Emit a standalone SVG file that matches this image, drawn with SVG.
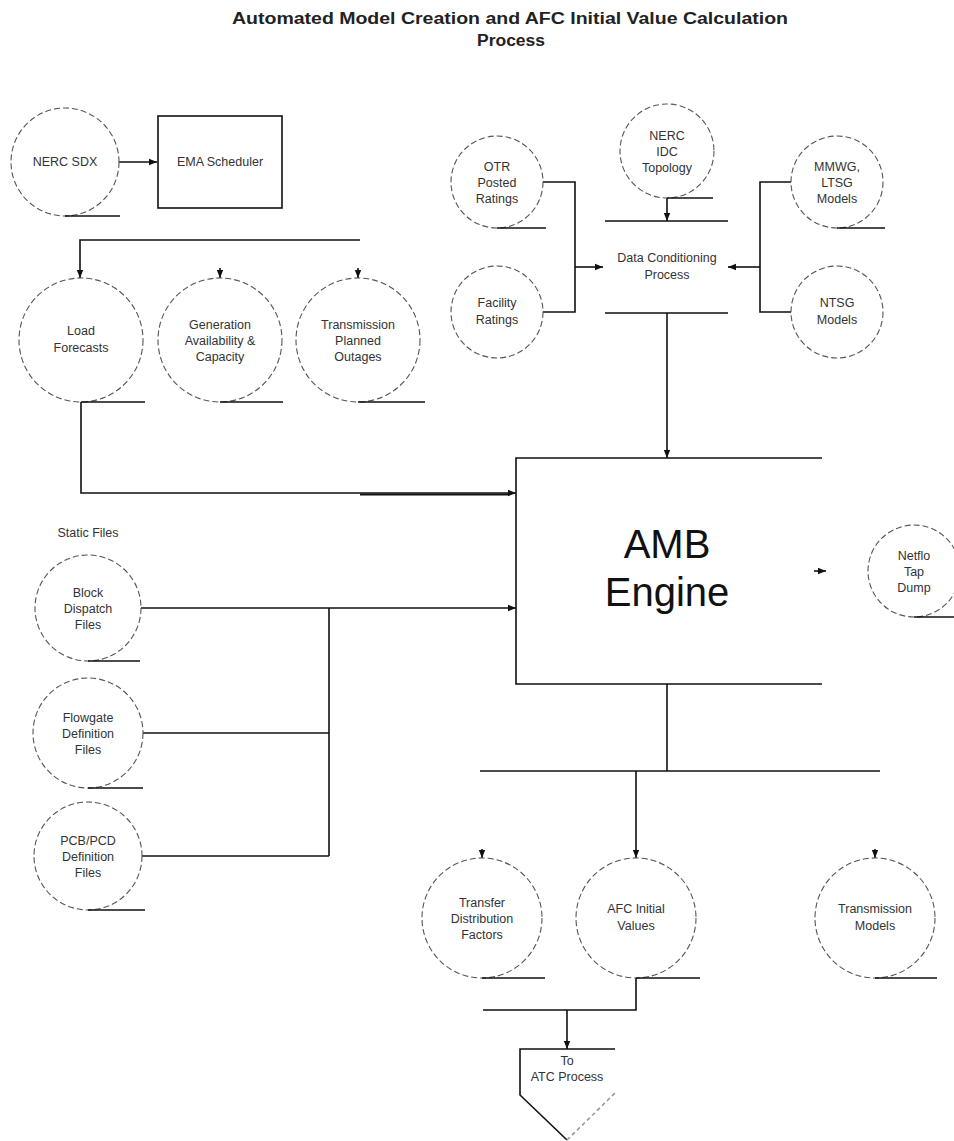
<svg xmlns="http://www.w3.org/2000/svg" width="954" height="1141" viewBox="0 0 954 1141">
<defs>
<marker id="arr" viewBox="0 0 10 10" refX="10" refY="5" markerWidth="8" markerHeight="8" orient="auto" markerUnits="userSpaceOnUse"><path d="M0,1 L10,5 L0,9 z" fill="#111"/></marker>
</defs>
<style>
.c{fill:#fff;stroke:#555;stroke-width:1.1;stroke-dasharray:6 3}
.u{stroke:#111;stroke-width:1.6;fill:none}
.l{stroke:#111;stroke-width:1.6;fill:none}
.a{marker-end:url(#arr)}
.t{font-family:"Liberation Sans",Arial,sans-serif;font-size:12.5px;fill:#333;text-anchor:middle}
.ti{font-family:"Liberation Sans",Arial,sans-serif;font-size:16px;font-weight:bold;fill:#222;text-anchor:middle}
.big{font-family:"Liberation Sans",Arial,sans-serif;font-size:40px;fill:#111;text-anchor:middle}
</style>
<rect width="954" height="1141" fill="#fff"/>
<g id="title">
<text class="ti" x="510" y="24" textLength="556" lengthAdjust="spacingAndGlyphs">Automated Model Creation and AFC Initial Value Calculation</text>
<text class="ti" x="511" y="46" textLength="68" lengthAdjust="spacingAndGlyphs">Process</text>
</g>
<g id="connectors">
<path class="l a" d="M119,162 H157"/>
<path class="l" d="M543,182 H575 V312 H543"/>
<path class="l a" d="M575,267 H603"/>
<path class="l" d="M791,182 H760 V312 H791"/>
<path class="l a" d="M760,267 H728"/>
<path class="l a" d="M667,198 V221"/>
<path class="l a" d="M667,313 V458"/>
<path class="l a" d="M360,240 H80 V278"/>
<path class="l a" d="M220,268 V278"/>
<path class="l a" d="M358,268 V278"/>
<path class="l a" d="M81,402 V493 H516"/>
<path class="l" d="M360,494.5 H508" style="stroke-width:2"/>
<path class="l a" d="M141,608 H516"/>
<path class="l" d="M329,608 V856"/>
<path class="l" d="M143,733 H329"/>
<path class="l" d="M142,856 H329"/>
<path class="l a" d="M814,571 H826"/>
<path class="l" d="M667,684 V771"/>
<path class="l" d="M480,771 H880"/>
<path class="l a" d="M636,771 V858"/>
<path class="l a" d="M482,849 V858"/>
<path class="l a" d="M875,849 V858"/>
<path class="l" d="M636,978 V1010 H483"/>
<path class="l a" d="M567,1010 V1049"/>
</g>
<g id="nerc-sdx">
<circle class="c" cx="65" cy="162" r="54"/>
<path class="u" d="M65,216 H120"/>
<text class="t" x="65" y="166">NERC SDX</text>
</g>
<g id="ema-scheduler">
<rect x="158" y="116" width="124" height="92" fill="#fff" stroke="#111" stroke-width="1.6"/>
<text class="t" x="220" y="166">EMA Scheduler</text>
</g>
<g id="otr-posted-ratings">
<circle class="c" cx="497" cy="182" r="46"/>
<path class="u" d="M497,228 H546"/>
<text class="t" x="497" y="171">OTR</text>
<text class="t" x="497" y="187">Posted</text>
<text class="t" x="497" y="203">Ratings</text>
</g>
<g id="nerc-idc">
<circle class="c" cx="667" cy="151" r="47"/>
<path class="u" d="M667,198 H713"/>
<text class="t" x="667" y="140">NERC</text>
<text class="t" x="667" y="156">IDC</text>
<text class="t" x="667" y="172">Topology</text>
</g>
<g id="mmwg-ltsg">
<circle class="c" cx="837" cy="182" r="46"/>
<path class="u" d="M837,228 H885"/>
<text class="t" x="837" y="171">MMWG,</text>
<text class="t" x="837" y="187">LTSG</text>
<text class="t" x="837" y="203">Models</text>
</g>
<g id="facility-ratings">
<circle class="c" cx="497" cy="312" r="46"/>
<text class="t" x="497" y="307">Facility</text>
<text class="t" x="497" y="324">Ratings</text>
</g>
<g id="ntsg-models">
<circle class="c" cx="837" cy="312" r="46"/>
<text class="t" x="837" y="307">NTSG</text>
<text class="t" x="837" y="324">Models</text>
</g>
<g id="data-conditioning">
<path class="l" d="M605,221 H728 M605,313 H728"/>
<text class="t" x="667" y="262">Data Conditioning</text>
<text class="t" x="667" y="279">Process</text>
</g>
<g id="load-forecasts">
<circle class="c" cx="81" cy="340" r="62"/>
<path class="u" d="M81,402 H145"/>
<text class="t" x="81" y="335">Load</text>
<text class="t" x="81" y="352">Forecasts</text>
</g>
<g id="generation">
<circle class="c" cx="220" cy="340" r="62"/>
<path class="u" d="M220,402 H283"/>
<text class="t" x="220" y="329">Generation</text>
<text class="t" x="220" y="345">Availability &amp;</text>
<text class="t" x="220" y="361">Capacity</text>
</g>
<g id="transmission-outages">
<circle class="c" cx="358" cy="340" r="62"/>
<path class="u" d="M358,402 H425"/>
<text class="t" x="358" y="329">Transmission</text>
<text class="t" x="358" y="345">Planned</text>
<text class="t" x="358" y="361">Outages</text>
</g>
<g id="static-files-label">
<text class="t" x="88" y="537">Static Files</text>
</g>
<g id="block-dispatch">
<circle class="c" cx="88" cy="608" r="53"/>
<path class="u" d="M88,661 H140"/>
<text class="t" x="88" y="597">Block</text>
<text class="t" x="88" y="613">Dispatch</text>
<text class="t" x="88" y="629">Files</text>
</g>
<g id="flowgate-definition">
<circle class="c" cx="88" cy="733" r="55"/>
<path class="u" d="M88,788 H143"/>
<text class="t" x="88" y="722">Flowgate</text>
<text class="t" x="88" y="738">Definition</text>
<text class="t" x="88" y="754">Files</text>
</g>
<g id="pcb-pcd-definition">
<circle class="c" cx="88" cy="856" r="54"/>
<path class="u" d="M88,910 H145"/>
<text class="t" x="88" y="845">PCB/PCD</text>
<text class="t" x="88" y="861">Definition</text>
<text class="t" x="88" y="877">Files</text>
</g>
<g id="amb-engine">
<path class="l" d="M822,458 H516 V684 H822"/>
<text class="big" x="667" y="558">AMB</text>
<text class="big" x="667" y="606">Engine</text>
</g>
<g id="netflo-tap-dump">
<circle class="c" cx="914" cy="571" r="46"/>
<path class="u" d="M914,617 H954"/>
<text class="t" x="914" y="560">Netflo</text>
<text class="t" x="914" y="576">Tap</text>
<text class="t" x="914" y="592">Dump</text>
</g>
<g id="transfer-distribution-factors">
<circle class="c" cx="482" cy="918" r="60"/>
<path class="u" d="M482,978 H545"/>
<text class="t" x="482" y="907">Transfer</text>
<text class="t" x="482" y="923">Distribution</text>
<text class="t" x="482" y="939">Factors</text>
</g>
<g id="afc-initial-values">
<circle class="c" cx="636" cy="918" r="60"/>
<path class="u" d="M636,978 H700"/>
<text class="t" x="636" y="913">AFC Initial</text>
<text class="t" x="636" y="930">Values</text>
</g>
<g id="transmission-models">
<circle class="c" cx="875" cy="918" r="60"/>
<path class="u" d="M875,978 H937"/>
<text class="t" x="875" y="913">Transmission</text>
<text class="t" x="875" y="930">Models</text>
</g>
<g id="atc-process">
<path class="l" d="M615,1049 H520 V1095 L567,1140"/>
<path d="M567,1140 L615,1093" stroke="#999" stroke-width="1.6" stroke-dasharray="4 3" fill="none"/>
<text class="t" x="567" y="1065">To</text>
<text class="t" x="567" y="1081">ATC Process</text>
</g>
</svg>
